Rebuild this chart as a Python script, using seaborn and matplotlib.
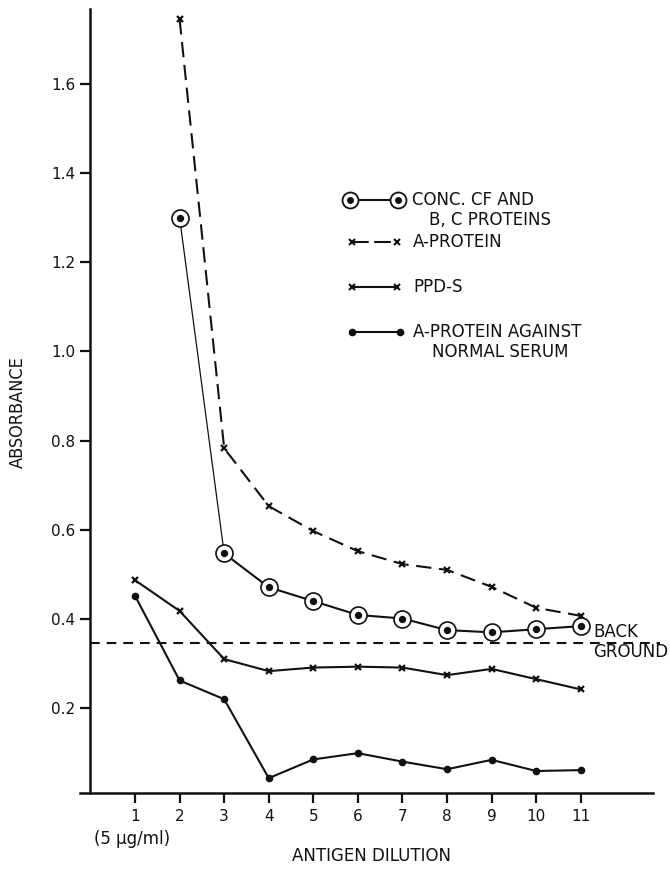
import matplotlib
matplotlib.use("Agg")
import matplotlib.pyplot as plt
from matplotlib.lines import Line2D
import numpy as np
import pandas as pd
import seaborn as sns

# ---- data -------------------------------------------------------------
dilution = list(range(1, 12))

cf_x = [2, 3, 4, 5, 6, 7, 8, 9, 10, 11]
cf_bc_proteins = [1.30, 0.547, 0.471, 0.440, 0.409, 0.401, 0.375, 0.370, 0.377, 0.384]

ap_x = [2, 3, 4, 5, 6, 7, 8, 9, 10, 11]
a_protein = [1.745, 0.783, 0.653, 0.597, 0.552, 0.523, 0.510, 0.472, 0.425, 0.407]

ppd_s = [0.487, 0.418, 0.310, 0.283, 0.291, 0.293, 0.291, 0.274, 0.288, 0.265, 0.242]

a_protein_normal = [0.452, 0.262, 0.220, 0.043, 0.085, 0.099, 0.080, 0.063, 0.084, 0.059, 0.061]

background = 0.345

y_ticks = [0.2, 0.4, 0.6, 0.8, 1.0, 1.2, 1.4, 1.6]
y_tick_labels = ["0.2", "0.4", "0.6", "0.8", "1.0", "1.2", "1.4", "1.6"]
x_tick_labels = [str(d) for d in dilution]

# ---- style ------------------------------------------------------------
sns.set_style("ticks")
plt.rcParams["font.family"] = ["DejaVu Sans"]
plt.rcParams["lines.scale_dashes"] = False

W, H = 670, 871
TXT = 12
fig = plt.figure(figsize=(W / 100, H / 100), dpi=100)
ax = fig.add_axes([80 / W, 1 - 793.3 / H, (653 - 80) / W, (793.3 - 9) / H])

K = "#111111"
LW = 1.5

# concentrated CF and B, C proteins: thin drop from 2 to 3, then heavier line
sns.lineplot(x=cf_x[:2], y=cf_bc_proteins[:2], ax=ax, color=K, linewidth=0.9,
             sort=False, legend=False)
sns.lineplot(x=cf_x[1:], y=cf_bc_proteins[1:], ax=ax, color=K, linewidth=LW,
             sort=False, legend=False)
sns.scatterplot(x=cf_x, y=cf_bc_proteins, ax=ax, marker="o", s=150,
                facecolor="white", edgecolor=K, linewidth=1.2, zorder=4, legend=False)
sns.scatterplot(x=cf_x, y=cf_bc_proteins, ax=ax, marker="o", s=28,
                color=K, edgecolor=K, linewidth=0, zorder=5, legend=False)

# A-protein (dashed)
sns.lineplot(x=ap_x, y=a_protein, ax=ax, color=K, linewidth=LW,
             linestyle=(0, (11, 5.5)), marker="x", markersize=5,
             markeredgewidth=1.6, markeredgecolor=K, sort=False, legend=False)

# PPD-S
sns.lineplot(x=dilution, y=ppd_s, ax=ax, color=K, linewidth=LW,
             marker="x", markersize=5, markeredgewidth=1.6,
             markeredgecolor=K, sort=False, legend=False)

# A-protein against normal serum
sns.lineplot(x=dilution, y=a_protein_normal, ax=ax, color=K, linewidth=LW,
             marker="o", markersize=5.5, markeredgewidth=0, markerfacecolor=K,
             sort=False, legend=False)

# background level
ax.plot([0, 12.78], [background, background], color=K, linewidth=LW,
        linestyle=(0, (7, 5)), clip_on=False)
ax.text(11.28, 0.371, "BACK", fontsize=TXT, color=K, ha="left", va="center")
ax.text(11.28, 0.326, "GROUND", fontsize=TXT, color=K, ha="left", va="center")

# ---- axes -------------------------------------------------------------
ax.set_xlim(-0.234, 12.62)
ax.set_ylim(0.009, 1.768)
ax.spines["left"].set_position(("data", 0))
ax.spines["right"].set_visible(False)
ax.spines["top"].set_visible(False)
for s in ("left", "bottom"):
    ax.spines[s].set_linewidth(1.8)
    ax.spines[s].set_color(K)

ax.set_xticks(dilution)
ax.set_xticklabels(x_tick_labels)
ax.set_yticks(y_ticks)
ax.set_yticklabels(y_tick_labels)
ax.tick_params(axis="both", direction="out", length=7, width=1.6,
               colors=K, labelsize=11, pad=4)
ax.set_xlabel("")
ax.set_ylabel("")

fig.text(132 / W, 1 - 839 / H, "(5 \u03bcg/ml)", fontsize=TXT, color=K,
         ha="center", va="center")
fig.text(371 / W, 1 - 856 / H, "ANTIGEN DILUTION", fontsize=TXT, color=K,
         ha="center", va="center")
fig.text(18 / W, 1 - 412 / H, "ABSORBANCE", fontsize=13, color=K,
         ha="center", va="center", rotation=90, stretch="condensed",
         family=["Liberation Sans Narrow", "DejaVu Sans"])

# ---- key --------------------------------------------------------------
def fx(px):
    return px / W


def fy(py):
    return 1 - py / H


def key_line(x0, x1, y, **kw):
    fig.add_artist(Line2D([fx(x0), fx(x1)], [fy(y), fy(y)], color=K,
                          transform=fig.transFigure, **kw))


def key_mark(xs, y, **kw):
    fig.add_artist(Line2D([fx(x) for x in xs], [fy(y)] * len(xs),
                          linestyle="none", color=K,
                          transform=fig.transFigure, **kw))


# concentrated CF entry
key_line(350, 398, 200, linewidth=LW)
key_mark([350, 398], 200, marker="o", markersize=11.5, markerfacecolor="white",
         markeredgecolor=K, markeredgewidth=1.3)
key_mark([350, 398], 200, marker="o", markersize=5, markerfacecolor=K,
         markeredgewidth=0)
fig.text(fx(412), fy(200), "CONC. CF AND", fontsize=TXT, color=K, va="center")
fig.text(fx(429), fy(220), "B, C PROTEINS", fontsize=TXT, color=K, va="center")

# A-protein entry
key_line(352, 397, 242, linewidth=LW, linestyle=(0, (12, 4)))
key_mark([352, 397], 242, marker="x", markersize=4, markeredgewidth=1.5)
fig.text(fx(413), fy(242), "A-PROTEIN", fontsize=TXT, color=K, va="center")

# PPD-S entry
key_line(352, 397, 287, linewidth=LW)
key_mark([352, 397], 287, marker="x", markersize=4, markeredgewidth=1.5)
fig.text(fx(413), fy(287), "PPD-S", fontsize=TXT, color=K, va="center")

# normal serum entry
key_line(352, 400, 332, linewidth=LW)
key_mark([352, 400], 332, marker="o", markersize=5.5, markerfacecolor=K,
         markeredgewidth=0)
fig.text(fx(413), fy(332), "A-PROTEIN AGAINST", fontsize=TXT, color=K, va="center")
fig.text(fx(432), fy(352), "NORMAL SERUM", fontsize=TXT, color=K, va="center")

fig.savefig("out.png", dpi=100, facecolor="white")
